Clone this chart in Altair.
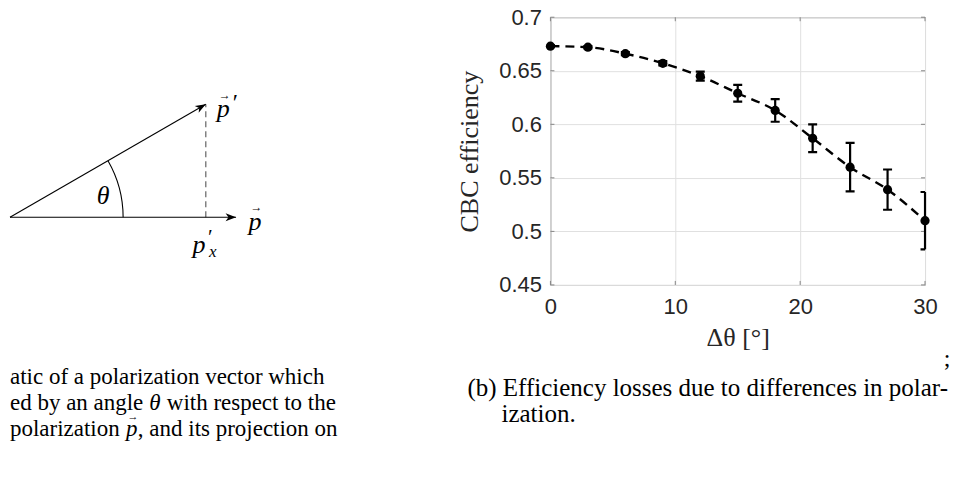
import math
import altair as alt
import pandas as pd

# ---------------- data: right panel (measured curve) ----------------
delta_theta = [0, 3, 6, 9, 12, 15, 18, 21, 24, 27, 30]
efficiency = [0.673, 0.672, 0.666, 0.657, 0.645, 0.629, 0.613, 0.587, 0.560, 0.539, 0.510]
eff_err = [0.001, 0.001, 0.0015, 0.002, 0.0042, 0.0078, 0.0106, 0.013, 0.0227, 0.0188, 0.0268]
x_ticks = [0, 10, 20, 30]
y_ticks = [0.45, 0.5, 0.55, 0.6, 0.65, 0.7]

# ---------------- data: left panel (schematic) ----------------
vector_names = ["p", "p_prime"]
vector_angles_deg = [0, 30]
vector_lengths = [1.0, 1.0]

caption_a1 = "atic of a polarization vector which"
caption_a2 = ["ed by an angle", "\u03b8", "with respect to the"]
caption_a3 = ["polarization", "p", ", and its projection on"]
caption_b = [
    "(b) Efficiency losses due to differences in polar-",
    "ization.",
]

SERIF = "Liberation Serif"
SANS = "Liberation Sans"
INK = "#262626"
DY = -1  # compensation for top padding


def one_text(txt, x, y, size, italic=False, align="left", font=SERIF):
    kw = dict(font=font, fontSize=size, color="black", align=align, baseline="middle")
    if italic:
        kw["fontStyle"] = "italic"
    return alt.Chart(pd.DataFrame({"t": [txt]})).mark_text(**kw).encode(
        text="t:N", x=alt.value(x), y=alt.value(y))


# ======================= LEFT PANEL =======================
vec = pd.DataFrame({
    "name": vector_names,
    "x0": [0.0] * len(vector_names),
    "y0": [0.0] * len(vector_names),
    "x1": [l * math.cos(math.radians(a)) for l, a in zip(vector_lengths, vector_angles_deg)],
    "y1": [l * math.sin(math.radians(a)) for l, a in zip(vector_lengths, vector_angles_deg)],
    "ang": [(360 - a) % 360 for a in vector_angles_deg],
})
proj = vec[vec["name"] == "p_prime"].copy()
proj["yb"] = 0.0
origin = pd.DataFrame({"x0": [0.0], "y0": [0.0]})

W1, H1 = 441, 440
unit = 226.3
y_base = 201.2 + DY
sx = alt.Scale(domain=[0, 1], range=[0, unit])
sy = alt.Scale(domain=[0, 1], range=[y_base, y_base - unit])


def X(f):
    return alt.X(f, type="quantitative", scale=sx, axis=None)


def Y(f):
    return alt.Y(f, type="quantitative", scale=sy, axis=None)


vectors = alt.Chart(vec).mark_rule(color="black", strokeWidth=1.1).encode(
    x=X("x0"), y=Y("y0"), x2="x1", y2="y1"
)
heads = alt.Chart(vec).mark_point(
    shape="M0,0 L-2,-0.75 L-1.45,0 L-2,0.75 Z", size=110, filled=True,
    color="black", opacity=1
).encode(x=X("x1"), y=Y("y1"), angle=alt.Angle("ang:Q", scale=None))
dashed = alt.Chart(proj).mark_rule(color="#7a7a7a", strokeWidth=1.4, strokeDash=[6, 4]).encode(
    x=X("x1"), y=Y("yb"), y2="y1"
)
arc = alt.Chart(origin).mark_arc(
    radius=113.8, radius2=112.7, theta=math.pi / 3, theta2=math.pi / 2, color="black"
).encode(x=X("x0"), y=Y("y0"))

labels = pd.DataFrame({
    "u": [0.943, 0.950, 0.990, 1.084, 1.090, 0.836, 0.880, 0.897, 0.412],
    "v": [0.480, 0.540, 0.505, -0.019, 0.043, -0.121, -0.090, -0.152, 0.096],
    "txt": ["p", "\u2192", "\u2032", "p", "\u2192", "p", "\u2032", "x", "\u03b8"],
    "fs": [26, 12, 24, 26, 12, 26, 21, 17, 26],
})
label_layers = []
for _, r in labels.iterrows():
    label_layers.append(
        alt.Chart(pd.DataFrame({"u": [r.u], "v": [r.v], "txt": [r.txt]})).mark_text(
            font=SERIF, fontSize=float(r.fs), fontStyle="italic", color="black",
            align="center", baseline="middle"
        ).encode(x=X("u"), y=Y("v"), text="txt:N")
    )

FS_A = 23
L1, L2, L3 = 361.5 + DY, 387.5 + DY, 413.5 + DY
cap_a = [
    one_text(caption_a1, 0, L1, FS_A),
    one_text(caption_a2[0], 0, L2, FS_A),
    one_text(caption_a2[1], 139.5, L2, FS_A, italic=True),
    one_text(caption_a2[2], 157, L2, FS_A),
    one_text(caption_a3[0], 0, L3, FS_A),
    one_text(caption_a3[1], 116, L3, FS_A, italic=True),
    one_text("\u2192", 123, L3 - 12, 11, italic=False, align="center"),
    one_text(caption_a3[2], 128, L3, FS_A),
]

left = alt.layer(dashed, vectors, heads, arc, *label_layers, *cap_a).properties(
    width=W1, height=H1, view=alt.ViewBackground(stroke="transparent")
)

# ======================= RIGHT PANEL =======================
df = pd.DataFrame({"dtheta": delta_theta, "eff": efficiency, "err": eff_err})
df["lo"] = df["eff"] - df["err"]
df["hi"] = df["eff"] + df["err"]

W2, H2 = 375, 268
xs = alt.Scale(domain=[0, 30], nice=False, zero=False)
ys = alt.Scale(domain=[0.45, 0.7], nice=False, zero=False)

x_axis = alt.Axis(
    values=x_ticks, title="\u0394\u03b8 [\u00b0]", grid=True, gridColor="#e0e0e0",
    ticks=False, tickSize=0, domain=False, labelFlush=False, labelOverlap=False,
    labelFont=SANS, labelFontSize=22, labelColor=INK, labelPadding=12,
    titleFont=SERIF, titleFontSize=26, titleFontWeight="normal", titleColor=INK,
    titlePadding=7,
)
y_axis = alt.Axis(
    values=y_ticks, format="~g", title="CBC efficiency", grid=True, gridColor="#e0e0e0",
    ticks=False, tickSize=0, domain=False, labelFlush=False, labelOverlap=False,
    labelFont=SANS, labelFontSize=22, labelColor=INK, labelPadding=9,
    titleFont=SERIF, titleFontSize=26, titleFontWeight="normal", titleColor=INK,
    titlePadding=16,
)


def XA(f):
    return alt.X(f, type="quantitative", scale=xs, axis=x_axis)


def YA(f):
    return alt.Y(f, type="quantitative", scale=ys, axis=y_axis)


line = alt.Chart(df).mark_line(color="black", strokeWidth=2.4, strokeDash=[9, 6],
                               interpolate="monotone").encode(x=XA("dtheta"), y=YA("eff"))
err_rule = alt.Chart(df).mark_rule(color="black", strokeWidth=2.2).encode(
    x=XA("dtheta"), y=YA("lo"), y2="hi")
cap_lo = alt.Chart(df).mark_tick(color="black", orient="horizontal", size=9, thickness=2.2,
                                 opacity=1, clip=True).encode(x=XA("dtheta"), y=YA("lo"))
cap_hi = alt.Chart(df).mark_tick(color="black", orient="horizontal", size=9, thickness=2.2,
                                 opacity=1, clip=True).encode(x=XA("dtheta"), y=YA("hi"))
pts = alt.Chart(df).mark_circle(color="black", size=85, opacity=1).encode(
    x=XA("dtheta"), y=YA("eff"))

xt = pd.DataFrame({"t": x_ticks})
yt = pd.DataFrame({"t": y_ticks})
tick_color = "#858585"
xt_bot = alt.Chart(xt).mark_rule(color=tick_color, strokeWidth=1).encode(
    x=XA("t"), y=alt.value(H2), y2=alt.value(H2 - 4))
xt_top = alt.Chart(xt).mark_rule(color=tick_color, strokeWidth=1).encode(
    x=XA("t"), y=alt.value(0), y2=alt.value(4))
yt_left = alt.Chart(yt).mark_rule(color=tick_color, strokeWidth=1).encode(
    y=YA("t"), x=alt.value(0), x2=alt.value(4))
yt_right = alt.Chart(yt).mark_rule(color=tick_color, strokeWidth=1).encode(
    y=YA("t"), x=alt.value(W2), x2=alt.value(W2 - 4))

cap_b1 = one_text(caption_b[0], -83, 372.5 + DY, 25)
cap_b2 = one_text(caption_b[1], -49, 398.5 + DY, 25)
semi = one_text(";", 397, 343.5 + DY, 24, align="center")

right = alt.layer(
    xt_bot, xt_top, yt_left, yt_right, line, err_rule, cap_lo, cap_hi, pts,
    cap_b1, cap_b2, semi
).properties(width=W2, height=H2)

chart = alt.hconcat(
    left, right, spacing=100, bounds="flush",
    padding={"left": 0, "top": -4 - DY, "right": 0, "bottom": 0},
).configure_view(stroke="#858585", strokeWidth=1)

chart.save("out.html", embed_options={"renderer": "svg", "actions": False})
